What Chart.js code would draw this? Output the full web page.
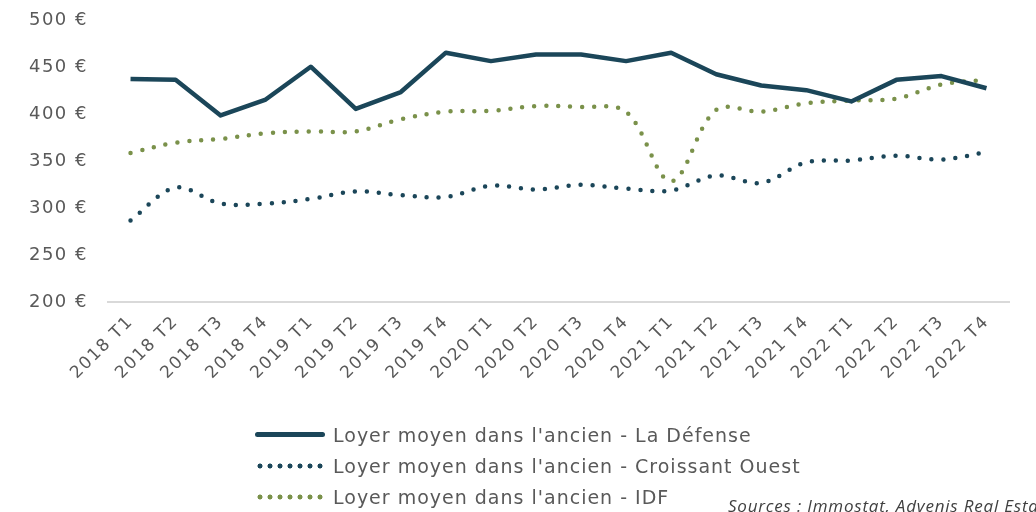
<!DOCTYPE html>
<html>
<head>
<meta charset="utf-8">
<script src="https://cdn.jsdelivr.net/npm/chart.js@4"></script>
<style>
    html, body { margin: 0; padding: 0; background: #fff; overflow: hidden; }
    #wrap { position: relative; width: 1036px; height: 512px; overflow: hidden; }
    #chart { position: absolute; left: 0; top: -10px; }
    #legend { position: absolute; left: 255px; top: 419px; font-family: "DejaVu Sans", sans-serif; font-size: 19px; letter-spacing: 1px; color: #595959; }
    .item { display: flex; align-items: center; height: 31px; }
    .swatch { width: 70px; height: 6px; margin-right: 8px; }
    #source { position: absolute; left: 728px; top: 494px; white-space: nowrap; font-family: "Open Sans", sans-serif; font-style: italic; font-size: 17px; letter-spacing: 0.8px; color: #404040; }
</style>
</head>
<body>
<div id="wrap">
    <canvas id="chart" width="1036" height="522"></canvas>
    <div id="legend"></div>
    <div id="source">Sources : Immostat, Advenis Real Estate</div>
</div>
<script>
const labels = ["2018 T1", "2018 T2", "2018 T3", "2018 T4", "2019 T1", "2019 T2", "2019 T3", "2019 T4",
    "2020 T1", "2020 T2", "2020 T3", "2020 T4", "2021 T1", "2021 T2", "2021 T3", "2021 T4",
    "2022 T1", "2022 T2", "2022 T3", "2022 T4"];

const laDefense = [438, 437, 399, 416, 451, 406, 424, 466, 457, 464, 464, 457, 466, 443, 431, 426, 414, 437, 441, 428];
const croissantOuest = [287, 322, 305, 305, 310, 318, 314, 312, 324, 320, 325, 321, 319, 335, 327, 349, 351, 356, 352, 360];
const idf = [359, 370, 374, 380, 382, 382, 395, 403, 404, 409, 408, 403, 329, 405, 403, 412, 415, 417, 432, 437];

const yTicks = [200, 250, 300, 350, 400, 450, 500];

const NAVY = "#1b4659";
const GREEN = "#7a914a";
const TEXT = "#595959";

const series = [
    { label: "Loyer moyen dans l'ancien - La Défense", data: laDefense, color: NAVY, dotted: false },
    { label: "Loyer moyen dans l'ancien - Croissant Ouest", data: croissantOuest, color: NAVY, dotted: true },
    { label: "Loyer moyen dans l'ancien - IDF", data: idf, color: GREEN, dotted: true }
];

// canvas state is reset on resize, so set the spacing on every pass
const wideText = {
    id: "wideText",
    beforeUpdate: (chart) => { chart.ctx.letterSpacing = "1.5px"; },
    beforeDraw: (chart) => { chart.ctx.letterSpacing = "1.5px"; }
};

const ctx = document.getElementById("chart").getContext("2d");

new Chart(ctx, {
    type: "line",
    plugins: [wideText],
    data: {
        labels: labels,
        datasets: series.map(s => ({
            label: s.label,
            data: s.data,
            borderColor: s.color,
            backgroundColor: s.color,
            borderWidth: 4.5,
            borderDash: s.dotted ? [0, 12] : [],
            borderCapStyle: s.dotted ? "round" : "butt",
            borderJoinStyle: "round",
            tension: s.dotted ? 0.35 : 0,
            pointRadius: 0,
            fill: false
        }))
    },
    options: {
        responsive: false,
        animation: false,
        layout: { padding: { top: 8, right: 27, left: 0, bottom: 0 } },
        plugins: {
            legend: { display: false },
            tooltip: { enabled: false }
        },
        scales: {
            x: {
                offset: true,
                grid: { display: false, drawTicks: false },
                border: { display: true, color: "#d9d9d9", width: 2 },
                ticks: {
                    color: TEXT,
                    font: { family: "DejaVu Sans", size: 17 },
                    minRotation: 45,
                    maxRotation: 45,
                    autoSkip: false,
                    padding: 10
                },
                afterFit: (scale) => { scale.height = 210; }
            },
            y: {
                min: yTicks[0],
                max: yTicks[yTicks.length - 1],
                grid: { display: false, drawTicks: false },
                border: { display: false },
                afterBuildTicks: (scale) => { scale.ticks = yTicks.map(v => ({ value: v })); },
                ticks: {
                    color: TEXT,
                    font: { family: "DejaVu Sans", size: 18 },
                    padding: 20,
                    callback: (v) => v + " €"
                },
                afterFit: (scale) => { scale.width = 108; }
            }
        }
    }
});

// legend as html, one entry per row
const legend = document.getElementById("legend");
for (const s of series) {
    const row = document.createElement("div");
    row.className = "item";
    const sw = document.createElement("span");
    sw.className = "swatch";
    if (s.dotted) {
        sw.style.background = "radial-gradient(circle, " + s.color + " 2.2px, transparent 2.8px) 0 0 / 10px 6px repeat-x";
    } else {
        sw.style.background = s.color;
        sw.style.height = "5px";
        sw.style.borderRadius = "3px";
    }
    row.appendChild(sw);
    const txt = document.createElement("span");
    txt.textContent = s.label;
    row.appendChild(txt);
    legend.appendChild(row);
}
</script>
</body>
</html>
